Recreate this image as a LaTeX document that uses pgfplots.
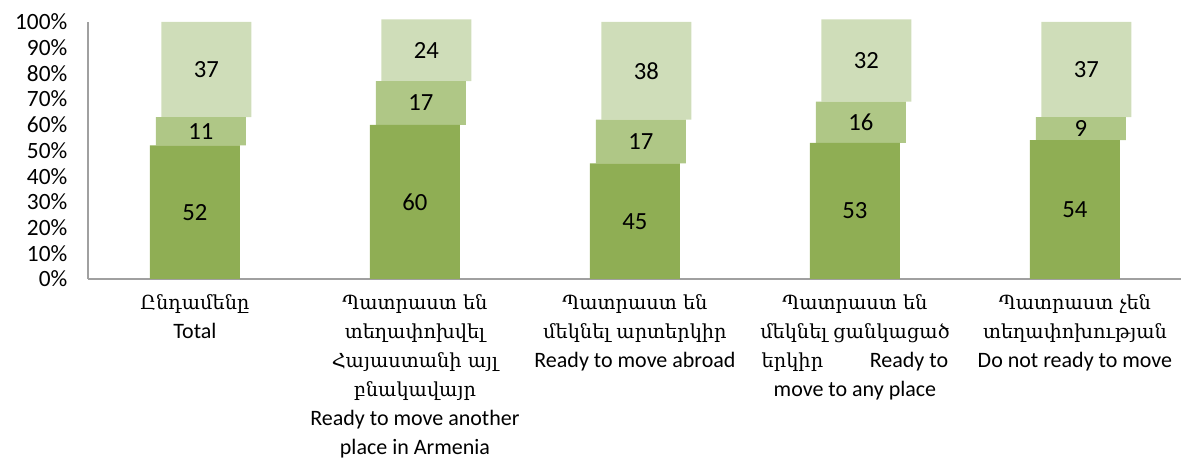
\documentclass[border=0pt]{standalone}
\usepackage{pgfplots}
\pgfplotsset{compat=1.18}
\usepackage{fontspec}
\setmainfont{Carlito}
\newfontfamily\arm{DejaVu Serif}
\definecolor{gA}{HTML}{8FAE54}
\definecolor{gB}{HTML}{AFC786}
\definecolor{gC}{HTML}{CFDDB9}
\definecolor{axgray}{HTML}{A0A0A0}
\begin{document}
\begin{tikzpicture}
\begin{axis}[name=ax, scale only axis, width=819.75pt, height=192.75pt,
  ybar stacked, bar width=67.5pt,
  xmin=-0.486, xmax=4.482, ymin=0, ymax=100,
  axis x line*=bottom, axis y line*=left,
  axis line style={axgray, line width=1pt},
  major tick length=0pt,
  xtick={0,1,2,3,4},
  xticklabels={
    {{\arm\fontsize{14.5}{21.75}\selectfont Ընդամենը}\\Total},
    {{\arm\fontsize{14.5}{21.75}\selectfont Պատրաստ են}\\{\arm\fontsize{14.5}{21.75}\selectfont տեղափոխվել}\\{\arm\fontsize{14.5}{21.75}\selectfont Հայաստանի այլ}\\{\arm\fontsize{14.5}{21.75}\selectfont բնակավայր}\\Ready to move another\\place in Armenia},
    {{\arm\fontsize{14.5}{21.75}\selectfont Պատրաստ են}\\{\arm\fontsize{14.5}{21.75}\selectfont մեկնել արտերկիր}\\Ready to move abroad},
    {{\arm\fontsize{14.5}{21.75}\selectfont Պատրաստ են}\\{\arm\fontsize{14.5}{21.75}\selectfont մեկնել ցանկացած}\\{\arm\fontsize{14.5}{21.75}\selectfont երկիր}\hspace{35pt}Ready to\\move to any place},
    {{\arm\fontsize{14.5}{21.75}\selectfont Պատրաստ չեն}\\{\arm\fontsize{14.5}{21.75}\selectfont տեղափոխության}\\Do not ready to move}
  },
  xticklabel style={align=center, font=\fontsize{16.5}{21.75}\selectfont, yshift=-8pt, anchor=north},
  ytick={0,10,...,100},
  /pgf/number format/assume math mode=true,
  yticklabel={\pgfmathprintnumber{\tick}\%},
  yticklabel style={font=\fontsize{17.5}{20}\selectfont, xshift=-12pt},
  visualization depends on=rawy \as \rawy,
  nodes near coords={\pgfmathprintnumber{\rawy}},
  every node near coord/.append style={anchor=center, font=\fontsize{18.5}{20}\selectfont, text=black},
  clip=false,
]
\addplot[fill=gA, draw=none, bar shift=0pt] coordinates {(0,52) (1,60) (2,45) (3,53) (4,54)};
\addplot[fill=gB, draw=none, bar shift=4.5pt] coordinates {(0,11) (1,17) (2,17) (3,16) (4,9)};
\addplot[fill=gC, draw=none, bar shift=8.6pt] coordinates {(0,37) (1,24) (2,38) (3,32) (4,37)};
\end{axis}
\pgfresetboundingbox
\path ([xshift=-66pt,yshift=-140.25pt]ax.south west) rectangle ([yshift=16.5pt]ax.north east);
\end{tikzpicture}
\end{document}
